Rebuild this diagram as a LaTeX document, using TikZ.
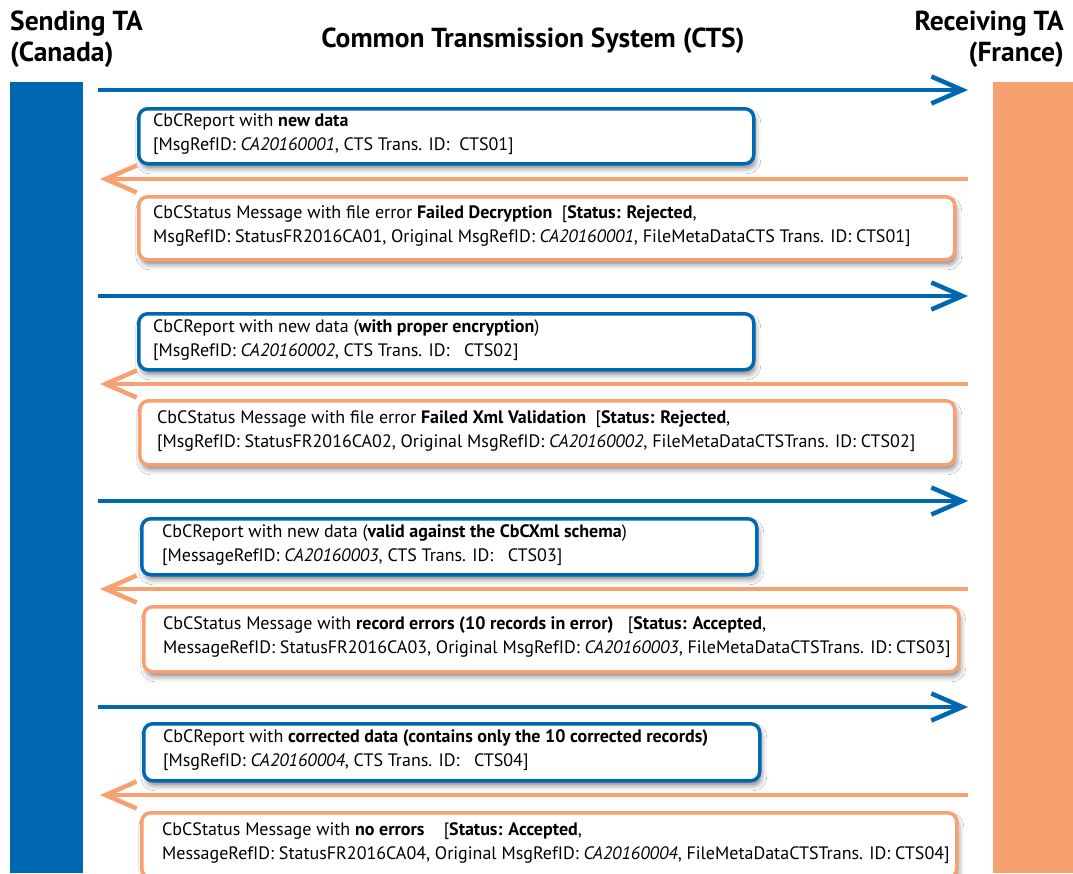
\documentclass[tikz,border=0pt]{standalone}
\usepackage{fontspec}
\setmainfont{PT Sans}
\usetikzlibrary{arrows.meta,shadows.blur}
\definecolor{ctsblue}{RGB}{0,103,177}
\definecolor{ctsorange}{RGB}{246,161,111}
\tikzset{
  bar/.style={fill=#1, draw=none},
  msgbox/.style={draw=#1, line width=3.5pt, rounded corners=9pt, fill=white,
    blur shadow={shadow xshift=2pt, shadow yshift=-5pt, shadow blur radius=5pt, shadow opacity=45},
    anchor=north west, inner sep=0pt},
  msgtext/.style={anchor=west, align=left, inner sep=0pt, font=\fontsize{18}{24}\selectfont},
  head/.style={inner sep=0pt, font=\fontsize{27.5}{31}\selectfont\bfseries},
  flow/.style={draw=#1, line width=4.5pt, -{Straight Barb[length=31pt,width=27pt]}},
}
\begin{document}
\begin{tikzpicture}[x=1pt,y=-1pt]
\useasboundingbox (0,0) rectangle (1073,873);
\clip (0,0) rectangle (1073,873);
\fill[white] (0,0) rectangle (1073,873);
% headers
\node[head, anchor=base west] (send1) at (10,30) {Sending TA};
\node[head, anchor=base west] (send2) at (10,61) {(Canada)};
\node[head, anchor=base east] (recv1) at (1064,30) {Receiving TA};
\node[head, anchor=base east] (recv2) at (1064,61) {(France)};
\node[head, anchor=base] (cts) at (533,47) {Common Transmission System (CTS)};
% bars
\path[bar=ctsblue] (10,82) rectangle (83,873);
\path[bar=ctsorange] (993,82) rectangle (1073,873);
% coordinates for arrows
\foreach \n/\y in {1/90,2/296,3/501,4/707}{
  \coordinate (bs\n) at (98,\y);
  \coordinate (be\n) at (968,\y);
}
\foreach \n/\y in {1/179,2/384,3/589,4/795}{
  \coordinate (os\n) at (968,\y);
  \coordinate (oe\n) at (100,\y);
}
\foreach \n in {1,...,4}{
  \draw[flow=ctsblue] (bs\n) -- (be\n);
  \draw[flow=ctsorange] (os\n) -- (oe\n);
}
% boxes
\node[msgbox=ctsblue, minimum width=615pt, minimum height=55pt] (b1) at (137,107) {};
\node[msgtext] (t1) at (153,134.5) {CbCReport with \textbf{new data}\\{}[MsgRefID: \textit{CA20160001}, CTS Trans. ID:\ \ CTS01]};

\node[msgbox=ctsorange, minimum width=816pt, minimum height=63pt] (o1) at (137,195) {};
\node[msgtext] (u1) at (153,226.5) {CbCStatus Message with file error \textbf{Failed Decryption}\ \ [\textbf{Status: Rejected},\\MsgRefID: StatusFR2016CA01, Original MsgRefID: \textit{CA20160001}, FileMetaDataCTS Trans. ID: CTS01]};

\node[msgbox=ctsblue, minimum width=615pt, minimum height=56pt] (b2) at (137,312) {};
\node[msgtext] (t2) at (153,340) {CbCReport with new data (\textbf{with proper encryption})\\{}[MsgRefID: \textit{CA20160002}, CTS Trans. ID:\ \ \ CTS02]};

\node[msgbox=ctsorange, minimum width=815pt, minimum height=64pt] (o2) at (138,399) {};
\node[msgtext] (u2) at (157,431) {CbCStatus Message with file error \textbf{Failed Xml Validation}\ \ [\textbf{Status: Rejected},\\{}[MsgRefID: StatusFR2016CA02, Original MsgRefID: \textit{CA20160002}, FileMetaDataCTSTrans. ID: CTS02]};

\node[msgbox=ctsblue, minimum width=615pt, minimum height=56pt] (b3) at (140,517) {};
\node[msgtext] (t3) at (162,545) {CbCReport with new data (\textbf{valid against the CbCXml schema})\\{}[MessageRefID: \textit{CA20160003}, CTS Trans. ID:\ \ \ CTS03]};

\node[msgbox=ctsorange, minimum width=815pt, minimum height=65pt] (o3) at (142,605) {};
\node[msgtext] (u3) at (163,637.5) {CbCStatus Message with \textbf{record errors (10 records in error)}\ \ \ [\textbf{Status: Accepted},\\MessageRefID: StatusFR2016CA03, Original MsgRefID: \textit{CA20160003}, FileMetaDataCTSTrans. ID: CTS03]};

\node[msgbox=ctsblue, minimum width=616pt, minimum height=57pt] (b4) at (142,722) {};
\node[msgtext] (t4) at (163,750.5) {CbCReport with \textbf{corrected data (contains only the 10 corrected records)}\\{}[MsgRefID: \textit{CA20160004}, CTS Trans. ID:\ \ \ CTS04]};

\node[msgbox=ctsorange, minimum width=815pt, minimum height=65pt] (o4) at (140,811) {};
\node[msgtext] (u4) at (162,843.5) {CbCStatus Message with \textbf{no errors}\ \ \ \ [\textbf{Status: Accepted},\\MessageRefID: StatusFR2016CA04, Original MsgRefID: \textit{CA20160004}, FileMetaDataCTSTrans. ID: CTS04]};
\end{tikzpicture}
\end{document}
